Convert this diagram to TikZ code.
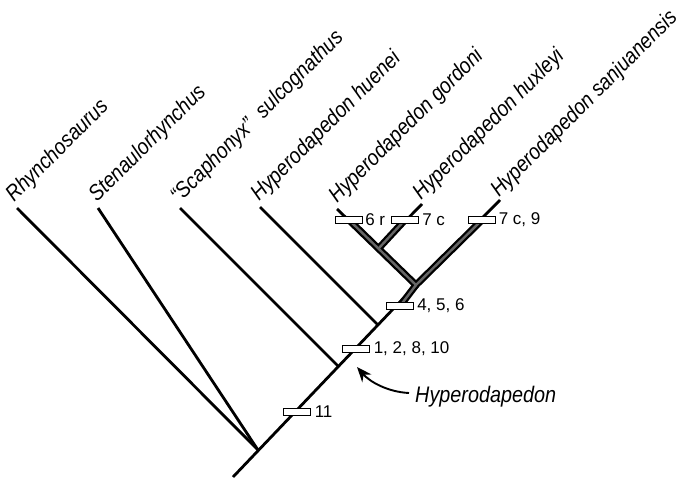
\documentclass[tikz,border=0pt]{standalone}
\usepackage{fontspec}
\setmainfont{Liberation Sans}
\usetikzlibrary{arrows.meta}
\newcommand{\narrow}[2]{\scalebox{#1}[1]{#2}}
\begin{document}
\begin{tikzpicture}[x=1pt,y=-1pt,
  thin branch/.style={line width=2.8pt, line cap=butt},
  thick branch/.style={line width=7pt, line join=miter},
  thick inner/.style={line width=2.4pt, draw=black!60},
  charbox/.style={draw=black, fill=white, line width=1.1pt, minimum width=27pt, minimum height=7pt, inner sep=0pt},
  charlabel/.style={anchor=west, inner sep=0pt, font=\fontsize{17}{19}\selectfont},
  taxon/.style={anchor=base west, rotate=45, inner sep=0pt, font=\fontsize{22}{24}\selectfont\itshape},
  cladename/.style={anchor=base west, inner sep=0pt, font=\fontsize{22.5}{25}\selectfont\itshape}
]
\useasboundingbox (0,0) rectangle (684,479);
% coordinates
\coordinate (root) at (233,477);
\coordinate (jR) at (258,450);
\coordinate (jS) at (338,366);
\coordinate (jH) at (378,325);
\coordinate (J1) at (416,285);
\coordinate (jX) at (379,248);
\coordinate (tR) at (17,208);
\coordinate (tSt) at (98,208);
\coordinate (tSc) at (180,208);
\coordinate (tHu) at (260,207);
\coordinate (tG) at (337,209);
\coordinate (tX) at (422,204);
\coordinate (tSj) at (500,200);
% thin branches
\draw[thin branch] (root) -- (J1);
\draw[thin branch] (tR) -- (jR);
\draw[thin branch] (tSt) -- (jR);
\draw[thin branch] (tSc) -- (jS);
\draw[thin branch] (tHu) -- (jH);
\draw[thin branch] (J1) -- (tG);
\draw[thin branch] (jX) -- (tX);
\draw[thin branch] (J1) -- (tSj);
% boxes (positions)
\coordinate (pG) at (349,220);
\coordinate (pX) at (405,220);
\coordinate (pSj) at (482,220);
\coordinate (p456) at (400,306);
% thick branches
\draw[thick branch] (pG) -- (J1) -- (pSj);
\draw[thick branch] (p456) -- (J1);
\draw[thick branch] (jX) -- (pX);
\draw[thick inner] (pG) -- (J1) -- (pSj);
\draw[thick inner] (p456) -- (J1);
\draw[thick inner] (jX) -- (pX);
% character boxes
\node[charbox] (bG) at (pG) {};
\node[charbox] (bX) at (pX) {};
\node[charbox] (bSj) at (pSj) {};
\node[charbox] (b456) at (p456) {};
\node[charbox] (b128) at (356,349) {};
\node[charbox] (b11) at (297,412) {};
\node[charlabel] (lG) at ([xshift=2pt]bG.east) {6 r};
\node[charlabel] (lX) at ([xshift=3pt]bX.east) {7 c};
\node[charlabel] (lSj) at ([xshift=2.5pt]bSj.east) {7 c, 9};
\node[charlabel] (l456) at ([xshift=3pt]b456.east) {4, 5, 6};
\node[charlabel] (l128) at ([xshift=3.5pt]b128.east) {1, 2, 8, 10};
\node[charlabel] (l11) at ([xshift=3.5pt]b11.east) {11};
% taxon labels
\node[taxon] (nR) at (14,203) {\narrow{0.88}{Rhynchosaurus}};
\node[taxon] (nSt) at (97,203) {\narrow{0.88}{Stenaulorhynchus}};
\node[taxon] (nSc) at (179,204) {\narrow{0.88}{“Scaphonyx”\ \ sulcognathus}};
\node[taxon] (nHu) at (259,202) {\narrow{0.88}{Hyperodapedon huenei}};
\node[taxon] (nG) at (337,204) {\narrow{0.88}{Hyperodapedon gordoni}};
\node[taxon] (nX) at (421,201) {\narrow{0.88}{Hyperodapedon huxleyi}};
\node[taxon] (nSj) at (499,198) {\narrow{0.87}{Hyperodapedon sanjuanensis}};
% clade name and arrow
\node[cladename] (hyp) at (415,402) {\narrow{0.88}{Hyperodapedon}};
\coordinate (tip) at (357,367);
\draw[line width=1.9pt, -{Stealth[length=15pt,width=12pt]}] ([xshift=-6pt]hyp.west |- 0,393) .. controls (388,392) and (370,382) .. (tip);
\end{tikzpicture}
\end{document}
